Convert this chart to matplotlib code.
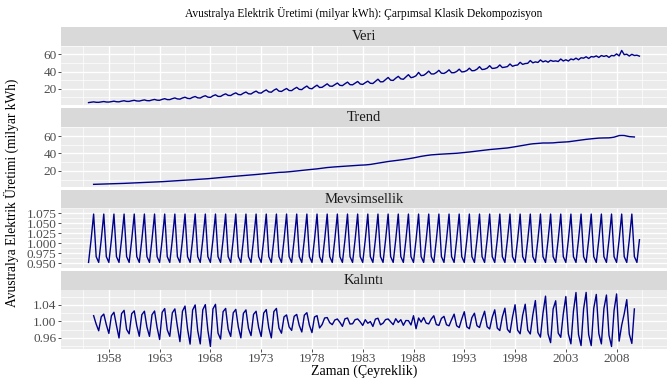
"""Classical multiplicative decomposition of quarterly Australian electricity
production, drawn as four ggplot-like facets. Writes out.png."""
import numpy as np
import matplotlib

matplotlib.use("Agg")
import matplotlib.pyplot as plt

START_YEAR = 1956
PERIOD = 4

# quarterly production, billion kWh, 1956 Q1 .. 2010 Q2
production = [
    3.995, 4.439, 4.835, 4.346,      # 1956
    4.300, 4.810, 5.236, 4.673,      # 1957
    4.594, 5.180, 5.644, 5.007,      # 1958
    4.888, 5.614, 6.140, 5.394,      # 1959
    5.373, 6.112, 6.666, 5.882,      # 1960
    5.742, 6.523, 7.107, 6.263,      # 1961
    6.151, 7.017, 7.678, 6.793,      # 1962
    6.675, 7.763, 8.536, 7.484,      # 1963
    7.443, 8.565, 9.387, 8.260,      # 1964
    8.019, 9.349, 10.233, 8.872,     # 1965
    8.591, 10.097, 11.061, 9.534,    # 1966
    9.279, 10.917, 11.969, 10.326,   # 1967
    9.988, 11.868, 13.047, 11.208,   # 1968
    11.115, 12.889, 14.132, 12.357,  # 1969
    12.216, 13.999, 15.278, 13.392,  # 1970
    13.059, 14.933, 16.266, 14.231,  # 1971
    13.996, 15.899, 17.324, 15.267,  # 1972
    15.007, 17.176, 18.725, 16.395,  # 1973
    16.034, 18.403, 19.976, 17.301,  # 1974
    16.910, 18.794, 20.329, 18.034,  # 1975
    17.904, 19.976, 21.687, 19.308,  # 1976
    19.053, 21.382, 23.184, 20.475,  # 1977
    20.029, 22.321, 24.206, 21.528,  # 1978
    21.738, 23.815, 25.750, 23.151,  # 1979
    22.918, 24.799, 26.679, 24.035,  # 1980
    23.683, 25.803, 27.747, 24.815,  # 1981
    24.631, 26.560, 28.473, 25.565,  # 1982
    25.069, 27.100, 28.850, 26.400,  # 1983
    26.152, 28.724, 31.133, 28.058,  # 1984
    28.212, 30.675, 33.155, 30.006,  # 1985
    29.700, 32.300, 34.450, 31.550,  # 1986
    31.047, 33.714, 36.393, 32.896,  # 1987
    33.618, 35.157, 39.000, 35.315,  # 1988
    35.658, 37.735, 40.537, 37.243,  # 1989
    37.204, 38.829, 41.428, 38.074,  # 1990
    37.837, 39.448, 42.046, 38.602,  # 1991
    38.687, 40.091, 42.762, 39.565,  # 1992
    39.920, 41.120, 43.898, 40.943,  # 1993
    41.158, 42.735, 45.670, 42.337,  # 1994
    42.720, 43.931, 46.822, 43.599,  # 1995
    43.923, 44.793, 47.674, 44.643,  # 1996
    45.133, 45.781, 48.797, 46.087,  # 1997
    47.177, 47.565, 50.729, 48.285,  # 1998
    49.301, 49.586, 52.758, 50.098,  # 1999
    51.235, 50.541, 53.471, 51.221,  # 2000
    52.459, 50.852, 53.000, 51.886,  # 2001
    52.388, 51.636, 54.587, 52.248,  # 2002
    53.667, 52.215, 54.600, 53.666,  # 2003
    55.548, 53.674, 56.000, 55.545,  # 2004
    57.198, 55.173, 57.400, 56.900,  # 2005
    58.160, 56.390, 58.600, 57.557,  # 2006
    58.513, 56.435, 58.700, 58.187,  # 2007
    60.506, 58.139, 64.500, 59.604,  # 2008
    60.106, 57.991, 60.000, 58.613,  # 2009
    58.950, 57.900,                  # 2010
]

panel_names = ["Veri", "Trend", "Mevsimsellik", "Kalıntı"]
x_ticks = list(range(1958, 2009, 5))
y_ticks = [
    [20, 40, 60],
    [20, 40, 60],
    [0.950, 0.975, 1.000, 1.025, 1.050, 1.075],
    [0.96, 1.00, 1.04],
]
y_formats = ["{:.0f}", "{:.0f}", "{:.3f}", "{:.2f}"]

LINE = "#00008B"
PANEL_BG = "#EBEBEB"
STRIP_BG = "#D9D9D9"
TEXT = "#1A1A1A"
TICK_TEXT = "#4D4D4D"


def decompose(x, m):
    """Classical multiplicative decomposition (centred 2xm moving average)."""
    x = np.asarray(x, dtype=float)
    n = len(x)
    w = np.r_[0.5, np.ones(m - 1), 0.5] / m
    trend = np.full(n, np.nan)
    h = m // 2
    for i in range(h, n - h):
        trend[i] = np.dot(w, x[i - h:i + h + 1])
    ratio = x / trend
    idx = np.array([np.nanmean(ratio[q::m]) for q in range(m)])
    idx = idx * m / idx.sum()
    seasonal = idx[np.arange(n) % m]
    remainder = x / (trend * seasonal)
    return trend, seasonal, remainder


def main():
    plt.rcParams["font.family"] = ["Liberation Serif", "DejaVu Serif"]
    t = START_YEAR + np.arange(len(production)) / PERIOD
    trend, seasonal, remainder = decompose(production, PERIOD)
    series = [np.asarray(production), trend, seasonal, remainder]

    W, H = 670, 378
    fig = plt.figure(figsize=(W / 100, H / 100), dpi=100)

    def box(x0, y0, x1, y1):
        return [x0 / W, 1 - y1 / H, (x1 - x0) / W, (y1 - y0) / H]

    left, right = 61, 667
    strip_h = 19.0
    tops = [26.7, 108.3, 189.5, 270.7]
    panel_h = 59.5

    span = t[-1] - t[0]
    xlim = (t[0] - 0.05 * span, t[-1] + 0.05 * span)
    x_minor = [x - 2.5 for x in x_ticks] + [x_ticks[-1] + 2.5]

    for k, (name, y) in enumerate(zip(panel_names, series)):
        top = tops[k]
        sax = fig.add_axes(box(left, top, right, top + strip_h))
        sax.set_facecolor(STRIP_BG)
        sax.set_xticks([])
        sax.set_yticks([])
        for s in sax.spines.values():
            s.set_visible(False)
        sax.text(0.5, 0.5, name, ha="center", va="center", fontsize=10.5,
                 color=TEXT, transform=sax.transAxes)

        ax = fig.add_axes(box(left, top + strip_h, right, top + strip_h + panel_h))
        ax.set_facecolor(PANEL_BG)
        for s in ax.spines.values():
            s.set_visible(False)
        ax.plot(t, y, color=LINE, lw=1.0)
        ax.set_xlim(*xlim)
        lo, hi = np.nanmin(y), np.nanmax(y)
        pad = 0.05 * (hi - lo)
        ax.set_ylim(lo - pad, hi + pad)

        yt = y_ticks[k]
        step = yt[1] - yt[0]
        y_minor = [v - step / 2 for v in yt] + [yt[-1] + step / 2]
        ax.set_yticks(yt)
        ax.set_yticklabels([y_formats[k].format(v) for v in yt])
        ax.set_yticks(y_minor, minor=True)
        ax.set_xticks(x_ticks)
        ax.set_xticks(x_minor, minor=True)
        ax.grid(which="major", color="white", lw=1.0)
        ax.grid(which="minor", color="white", lw=0.5)
        ax.set_axisbelow(True)
        ax.tick_params(axis="y", which="major", length=2.2, width=0.6,
                       color="#333333", labelsize=9.5, labelcolor=TICK_TEXT, pad=1.0)
        ax.tick_params(which="minor", length=0)
        if k == 3:
            ax.tick_params(axis="x", which="major", length=2.2, width=0.6,
                           color="#333333", labelsize=9.5, labelcolor=TICK_TEXT, pad=0.5)
            ax.set_xticklabels([str(v) for v in x_ticks])
        else:
            ax.tick_params(axis="x", which="major", length=0, labelbottom=False)

    fig.text((left + right) / 2 / W, 1 - 13 / H,
             "Avustralya Elektrik Üretimi (milyar kWh): Çarpımsal Klasik Dekompozisyon",
             ha="center", va="center", fontsize=8.3, color="black")
    fig.text((left + right) / 2 / W, 1 - 371 / H, "Zaman (Çeyreklik)",
             ha="center", va="center", fontsize=10, color="black")
    fig.text(11 / W, 1 - 192.5 / H, "Avustralya Elektrik Üretimi (milyar kWh)",
             ha="center", va="center", rotation=90, fontsize=9.75, color="black")

    fig.savefig("out.png", dpi=100)
    plt.close(fig)


if __name__ == "__main__":
    main()
